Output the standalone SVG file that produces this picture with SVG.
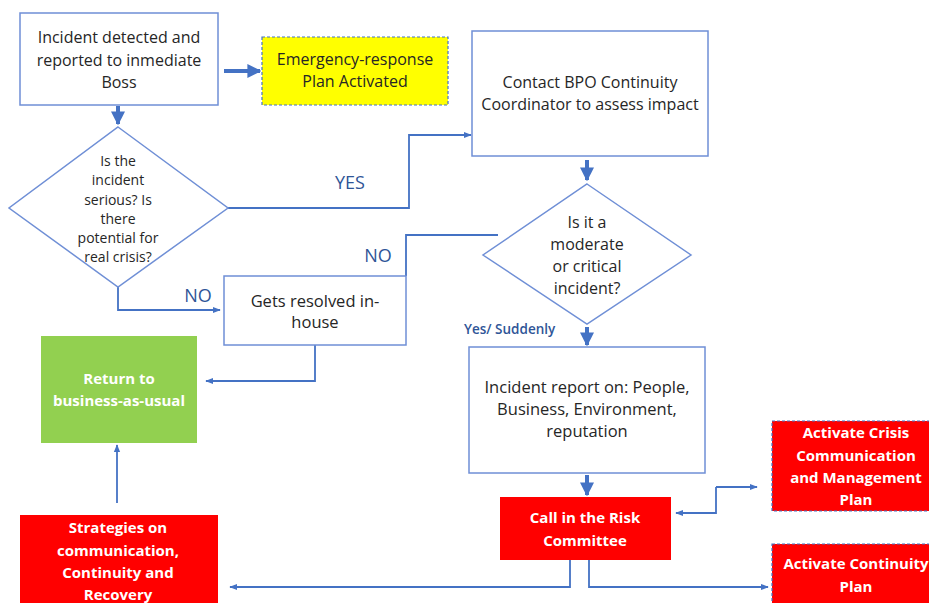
<svg xmlns="http://www.w3.org/2000/svg" width="929" height="603" viewBox="0 0 929 603">
<defs>
<style>
.box{fill:#fff;stroke:#6f8fd6;stroke-width:1.5}
.dia{fill:#fff;stroke:#6f8fd6;stroke-width:1.5}
.t{font-family:"Open Sans","Liberation Sans",sans-serif;font-size:16px;fill:#262626;text-anchor:middle}
.t14{font-size:14px}
.w{font-family:"Open Sans","Liberation Sans",sans-serif;font-size:15px;font-weight:bold;fill:#fff;text-anchor:middle}
.lbl{font-family:"Open Sans","Liberation Sans",sans-serif;font-size:18px;fill:#2f5597;text-anchor:middle}
.c{fill:none;stroke:#4472c4;stroke-width:1.8}
.ck{fill:none;stroke:#4472c4;stroke-width:4}
.dash{stroke:#4472c4;stroke-width:1.2;stroke-dasharray:3 2}
</style>
<marker id="big" viewBox="0 0 10 10" refX="9" refY="5" markerWidth="14" markerHeight="15" markerUnits="userSpaceOnUse" orient="auto"><path d="M0,0 L10,5 L0,10 z" fill="#4472c4"/></marker>
<marker id="sm" viewBox="0 0 10 10" refX="9" refY="5" markerWidth="8" markerHeight="8" markerUnits="userSpaceOnUse" orient="auto"><path d="M0,1 L10,5 L0,9 z" fill="#4472c4"/></marker>
</defs>
<rect width="929" height="603" fill="#fff"/>

<g id="connectors">
<line class="ck" x1="224" y1="71" x2="260" y2="71" marker-end="url(#big)"/>
<line class="ck" x1="118" y1="106" x2="118" y2="124" marker-end="url(#big)"/>
<polyline class="c" points="228,208 409,208 409,135 471,135" marker-end="url(#sm)"/>
<polyline class="c" points="118,287 118,310 220,310" marker-end="url(#sm)"/>
<polyline class="c" points="498,235 406,235 406,276"/>
<line class="ck" x1="587" y1="160" x2="587" y2="180" marker-end="url(#big)"/>
<line class="ck" x1="587" y1="327" x2="587" y2="345" marker-end="url(#big)"/>
<polyline class="c" points="315,345 315,381 206,381" marker-end="url(#sm)"/>
<line class="c" x1="117" y1="503" x2="117" y2="445" stroke-width="2.2" marker-end="url(#sm)"/>
<line class="ck" x1="587" y1="475" x2="587" y2="495" marker-end="url(#big)"/>
<polyline class="c" points="570,560 570,587 230,587" marker-end="url(#sm)"/>
<polyline class="c" points="589,560 589,587 768,587" marker-end="url(#sm)"/>
<polyline class="c" points="716,487 757,487" marker-end="url(#sm)"/>
<polyline class="c" points="716,487 716,513 676,513" marker-end="url(#sm)"/>
<text class="lbl" x="350" y="189">YES</text>
<text class="lbl" x="198" y="302">NO</text>
<text class="lbl" x="378" y="262">NO</text>
<text x="464" y="334" style="font-family:'Open Sans','Liberation Sans',sans-serif;font-size:13.5px;font-weight:600;fill:#2f5597">Yes/ Suddenly</text>
</g>

<g id="incident">
<rect class="box" x="20" y="13" width="198" height="92"/>
<text class="t" x="119" y="43">Incident detected and</text>
<text class="t" x="119" y="66">reported to inmediate</text>
<text class="t" x="119" y="88">Boss</text>
</g>

<g id="emergency">
<rect x="262" y="37" width="186" height="68" fill="#ffff00" class="dash"/>
<text class="t" x="355" y="65">Emergency-response</text>
<text class="t" x="355" y="87">Plan Activated</text>
</g>

<g id="contact">
<rect class="box" x="472" y="31" width="236" height="125"/>
<text class="t" x="590" y="88">Contact BPO Continuity</text>
<text class="t" x="590" y="110">Coordinator to assess impact</text>
</g>

<g id="serious">
<polygon class="dia" points="118,127 228,208 118,287 9,208"/>
<text class="t t14" x="118" y="166">Is the</text>
<text class="t t14" x="118" y="185">incident</text>
<text class="t t14" x="118" y="205">serious? Is</text>
<text class="t t14" x="118" y="224">there</text>
<text class="t t14" x="118" y="243">potential for</text>
<text class="t t14" x="118" y="262">real crisis?</text>
</g>

<g id="moderate">
<polygon class="dia" points="587,184 691,255 587,324 483,255"/>
<text class="t" x="587" y="228">Is it a</text>
<text class="t" x="587" y="250">moderate</text>
<text class="t" x="587" y="272">or critical</text>
<text class="t" x="587" y="294">incident?</text>
</g>

<g id="resolved">
<rect class="box" x="224" y="276" width="182" height="69"/>
<text class="t" x="315" y="307" style="font-size:16.5px">Gets resolved in-</text>
<text class="t" x="315" y="328" style="font-size:16.5px">house</text>
</g>

<g id="report">
<rect class="box" x="469" y="347" width="236" height="126"/>
<text class="t" x="587" y="393" style="font-size:16.5px">Incident report on: People,</text>
<text class="t" x="587" y="415" style="font-size:16.5px">Business, Environment,</text>
<text class="t" x="587" y="437" style="font-size:16.5px">reputation</text>
</g>

<g id="business">
<rect x="41" y="336" width="156" height="107" fill="#92d050"/>
<text class="w" x="119" y="384">Return to</text>
<text class="w" x="119" y="406">business-as-usual</text>
</g>

<g id="strategies">
<rect x="20" y="515" width="198" height="95" fill="#ff0000"/>
<text class="w" x="118" y="533">Strategies on</text>
<text class="w" x="118" y="556">communication,</text>
<text class="w" x="118" y="578">Continuity and</text>
<text class="w" x="118" y="600">Recovery</text>
</g>

<g id="risk">
<rect x="500" y="497" width="171" height="63" fill="#ff0000"/>
<text class="w" x="585" y="523">Call in the Risk</text>
<text class="w" x="585" y="546">Committee</text>
</g>

<g id="crisis">
<rect x="772" y="421" width="160" height="90" fill="#ff0000" class="dash"/>
<text class="w" x="856" y="438">Activate Crisis</text>
<text class="w" x="856" y="461">Communication</text>
<text class="w" x="856" y="483">and Management</text>
<text class="w" x="856" y="505">Plan</text>
</g>

<g id="continuity">
<rect x="772" y="544" width="160" height="66" fill="#ff0000" class="dash"/>
<text class="w" x="856" y="569">Activate Continuity</text>
<text class="w" x="856" y="592">Plan</text>
</g>
</svg>
